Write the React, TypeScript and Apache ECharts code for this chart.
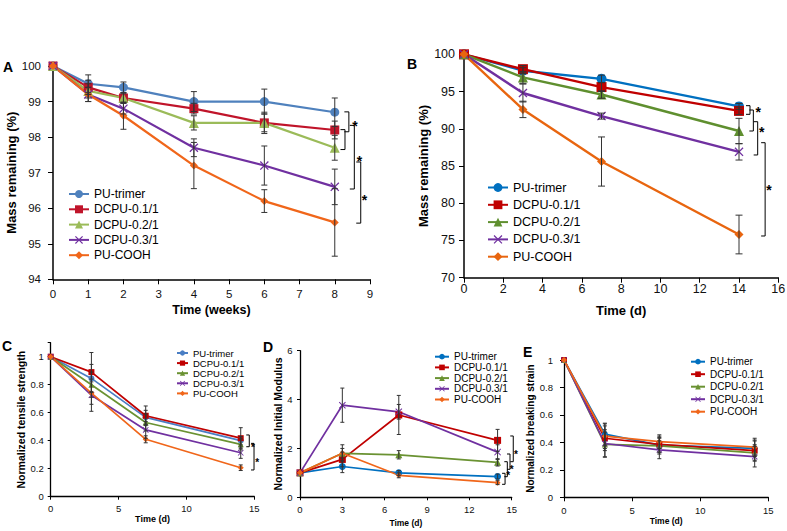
import React, { useEffect, useRef } from "react";
import * as echarts from "echarts";

const FONT = "'Liberation Sans', Arial, Helvetica, sans-serif";
const SEP = "|";

const seriesNames = ["PU-trimer", "DCPU-0.1/1", "DCPU-0.2/1", "DCPU-0.3/1", "PU-COOH"];

// Panel A: mass remaining vs weeks
const weeksA = [0, 1, 2, 4, 6, 8];
const massA = [
  [100, 99.5, 99.4, 99.0, 99.0, 98.7],
  [100, 99.4, 99.1, 98.8, 98.4, 98.2],
  [100, 99.3, 99.1, 98.4, 98.4, 97.7],
  [100, 99.2, 98.8, 97.7, 97.2, 96.6],
  [100, 99.2, 98.6, 97.2, 96.2, 95.6],
];
const errA = [
  [0, 0.25, 0.15, 0.28, 0.35, 0.4],
  [0, 0.2, 0.15, 0.15, 0.25, 0.25],
  [0, 0.2, 0.12, 0.2, 0.3, 0.35],
  [0, 0.2, 0.15, 0.25, 0.55, 0.5],
  [0, 0.2, 0.38, 0.65, 0.32, 0.95],
];
const bracketsA = [
  [8.4, 98.71, 98.15],
  [8.29, 98.21, 97.65],
  [8.555, 98.33, 96.54],
  [8.737, 97.3, 95.58],
];
const starsA = [
  [8.575, 98.42],
  [8.7, 97.43],
  [8.84, 96.32],
];

// Panel B: mass remaining vs days
const daysB = [0, 3, 7, 14];
const massB = [
  [100, 97.8, 96.7, 93.0],
  [100, 98.0, 95.6, 92.4],
  [100, 96.9, 94.6, 89.7],
  [100, 94.8, 91.7, 86.9],
  [100, 92.6, 85.6, 75.8],
];
const errB = [
  [0, 0.4, 0.5, 0.4],
  [0, 0.5, 0.6, 0.5],
  [0, 0.8, 0.5, 1.7],
  [0, 1.2, 0.4, 1.1],
  [0, 1.1, 3.3, 2.6],
];
const bracketsB = [
  [14.56, 93.1, 91.94],
  [14.73, 92.52, 89.7],
  [14.95, 90.95, 86.48],
  [15.33, 88.13, 75.6],
];
const starsB = [
  [14.98, 92.75],
  [15.16, 90.0],
  [15.53, 82.22],
];

// Panel C: normalized tensile strength
const daysC = [0, 3, 7, 14];
const tensileC = [
  [1, 0.845, 0.567, 0.4],
  [1, 0.89, 0.578, 0.418],
  [1, 0.8, 0.53, 0.374],
  [1, 0.725, 0.477, 0.314],
  [1, 0.74, 0.41, 0.207],
];
const errC = [
  [0, 0.1, 0.05, 0.03],
  [0, 0.14, 0.07, 0.075],
  [0, 0.09, 0.06, 0.04],
  [0, 0.115, 0.06, 0.04],
  [0, 0.08, 0.025, 0.02],
];
const bracketsC = [
  [14.63, 0.441, 0.357],
  [14.98, 0.381, 0.191],
];
const starsC = [
  [14.9, 0.369],
  [15.22, 0.259],
];

// Panel D: normalized initial modulus
const daysD = [0, 3, 7, 14];
const modulusD = [
  [1, 1.26, 1.0, 0.85],
  [1, 1.55, 3.37, 2.33],
  [1, 1.8, 1.74, 1.43],
  [1, 3.77, 3.5, 1.85],
  [1, 1.8, 0.9, 0.6],
];
const errD = [
  [0, 0.25, 0.1, 0.1],
  [0, 0.3, 0.8, 0.45],
  [0, 0.2, 0.17, 0.15],
  [0, 0.7, 0.3, 0.3],
  [0, 0.35, 0.1, 0.08],
];
const bracketsD = [
  [15.11, 2.51, 1.457],
  [14.88, 1.772, 1.146],
  [14.69, 1.457, 0.843],
  [14.53, 0.982, 0.532],
];
const starsD = [
  [15.31, 1.866],
  [15.0, 1.25],
  [14.76, 0.98],
];

// Panel E: normalized breaking strain
const daysE = [0, 3, 7, 14];
const strainE = [
  [1, 0.46, 0.38, 0.357],
  [1, 0.43, 0.385, 0.34],
  [1, 0.385, 0.375, 0.323],
  [1, 0.392, 0.346, 0.296],
  [1, 0.445, 0.405, 0.365],
];
const errE = [
  [0, 0.08, 0.05, 0.06],
  [0, 0.09, 0.06, 0.07],
  [0, 0.09, 0.06, 0.06],
  [0, 0.1, 0.065, 0.075],
  [0, 0.09, 0.05, 0.065],
];

const XPATH =
  "path://M0,1 L1,0 L5,4 L9,0 L10,1 L6,5 L10,9 L9,10 L5,6 L1,10 L0,9 L4,5 Z";
const symbols = ["circle", "rect", "triangle", XPATH, "diamond"];

const colorsA = ["#4f81bd", "#c0142a", "#9bbb59", "#7030a0", "#f0661a"];
const colorsB = ["#0070c0", "#c00000", "#5f8f2f", "#7030a0", "#e8650f"];
const colorsC = ["#4a7ec4", "#c00000", "#6a9232", "#7030a0", "#f0661a"];
const colorsDE = ["#0070c0", "#c00000", "#6a9232", "#7030a0", "#f0661a"];

type Panel = {
  id: string;
  x: number[];
  ys: number[][];
  errs: number[][];
  colors: string[];
  grid: { left: number; top: number; width: number; height: number };
  xa: { min: number; max: number; interval: number; name: string; gap: number; nameSize: number; margin: number };
  ya: { min: number; max: number; interval: number; name: string; gap: number; nameSize: number; margin: number };
  tickFont: number;
  tickLen: number;
  axisWidth: number;
  lineWidth: number;
  symSizes: number[];
  cap: number;
  brackets: number[][];
  stars: number[][];
  arm: number;
  starSize: number;
  legend: { left: number; top: number; itemWidth: number; itemHeight: number; itemGap: number; fontSize: number };
  labelFormatter?: (v: number) => string;
};

const panels: Panel[] = [
  {
    id: "A",
    x: weeksA,
    ys: massA,
    errs: errA,
    colors: colorsA,
    grid: { left: 53, top: 66, width: 317, height: 213.3 },
    xa: { min: 0, max: 9, interval: 1, name: "Time (weeks)", gap: 24, nameSize: 12.5, margin: 9 },
    ya: { min: 94, max: 100, interval: 1, name: "Mass remaining (%)", gap: 34, nameSize: 13, margin: 12 },
    tickFont: 11.5,
    tickLen: 5,
    axisWidth: 1.5,
    lineWidth: 2.2,
    symSizes: [9, 9, 10, 9, 8],
    cap: 6,
    brackets: bracketsA,
    stars: starsA,
    arm: 4.5,
    starSize: 14,
    legend: { left: 68, top: 188, itemWidth: 20, itemHeight: 10, itemGap: 3.3, fontSize: 12 },
  },
  {
    id: "B",
    x: daysB,
    ys: massB,
    errs: errB,
    colors: colorsB,
    grid: { left: 464, top: 54.3, width: 314.3, height: 223.4 },
    xa: { min: 0, max: 16, interval: 2, name: "Time (d)", gap: 26, nameSize: 13, margin: 5 },
    ya: { min: 70, max: 100, interval: 5, name: "Mass remaining (%)", gap: 34, nameSize: 13, margin: 9 },
    tickFont: 12.5,
    tickLen: 5,
    axisWidth: 1.5,
    lineWidth: 2.4,
    symSizes: [10, 10, 10, 9, 9],
    cap: 7,
    brackets: bracketsB,
    stars: starsB,
    arm: 4,
    starSize: 14,
    legend: { left: 487, top: 181, itemWidth: 20, itemHeight: 11, itemGap: 4.3, fontSize: 12.5 },
  },
  {
    id: "C",
    x: daysC,
    ys: tensileC,
    errs: errC,
    colors: colorsC,
    grid: { left: 50.7, top: 342.7, width: 203.6, height: 154 },
    xa: { min: 0, max: 15, interval: 5, name: "Time (d)", gap: 15, nameSize: 9, margin: 7 },
    ya: { min: 0, max: 1.1, interval: 0.2, name: "Normalized tensile strength", gap: 22, nameSize: 10.5, margin: 7 },
    tickFont: 9.5,
    tickLen: 3,
    axisWidth: 1.3,
    lineWidth: 1.7,
    symSizes: [6, 6, 6, 6, 6],
    cap: 4,
    brackets: bracketsC,
    stars: starsC,
    arm: 3,
    starSize: 10,
    legend: { left: 176, top: 348, itemWidth: 11, itemHeight: 6.5, itemGap: 0.1, fontSize: 9.5 },
    labelFormatter: (v: number) => (Math.abs(v * 5 - Math.round(v * 5)) < 1e-6 ? String(Math.round(v * 10) / 10) : ""),
  },
  {
    id: "D",
    x: daysD,
    ys: modulusD,
    errs: errD,
    colors: colorsDE,
    grid: { left: 300, top: 350.7, width: 211.7, height: 146.6 },
    xa: { min: 0, max: 15, interval: 3, name: "Time (d)", gap: 21, nameSize: 8.5, margin: 7 },
    ya: { min: 0, max: 6, interval: 2, name: "Normalized Initial Modulus", gap: 16, nameSize: 10.5, margin: 7.5 },
    tickFont: 9.5,
    tickLen: 3,
    axisWidth: 1.3,
    lineWidth: 1.7,
    symSizes: [7, 7, 7, 7, 6],
    cap: 4,
    brackets: bracketsD,
    stars: starsD,
    arm: 3,
    starSize: 10,
    legend: { left: 434, top: 351.7, itemWidth: 14, itemHeight: 7, itemGap: 0.7, fontSize: 10 },
  },
  {
    id: "E",
    x: daysE,
    ys: strainE,
    errs: errE,
    colors: colorsDE,
    grid: { left: 564, top: 360, width: 204.3, height: 137.3 },
    xa: { min: 0, max: 15, interval: 5, name: "Time (d)", gap: 12, nameSize: 8.5, margin: 8 },
    ya: { min: 0, max: 1, interval: 0.2, name: "Normalized breaking strain", gap: 23, nameSize: 10, margin: 11 },
    tickFont: 9.5,
    tickLen: 4,
    axisWidth: 1.3,
    lineWidth: 1.7,
    symSizes: [6, 6, 6, 6, 6],
    cap: 4,
    brackets: [],
    stars: [],
    arm: 3,
    starSize: 10,
    legend: { left: 690, top: 356.7, itemWidth: 14, itemHeight: 7, itemGap: 2.5, fontSize: 10 },
  },
];

const panelLabels = [
  { text: "A", left: 3, top: 60 },
  { text: "B", left: 407, top: 57 },
  { text: "C", left: 2, top: 339 },
  { text: "D", left: 263, top: 340 },
  { text: "E", left: 523, top: 345 },
];

function buildOption() {
  const grids: any[] = [];
  const xAxes: any[] = [];
  const yAxes: any[] = [];
  const legends: any[] = [];
  const series: any[] = [];

  panels.forEach((p, i) => {
    grids.push({ ...p.grid, containLabel: false, outerBoundsMode: "none" });
    const axisCommon = {
      type: "value",
      gridIndex: i,
      nameLocation: "middle",
      splitLine: { show: false },
      axisLine: { show: true, onZero: false, lineStyle: { color: "#000", width: p.axisWidth } },
      axisTick: { show: true, inside: false, length: p.tickLen, lineStyle: { color: "#000", width: 1 } },
    };
    xAxes.push({
      ...axisCommon,
      min: p.xa.min,
      max: p.xa.max,
      interval: p.xa.interval,
      name: p.xa.name,
      nameGap: p.xa.gap,
      nameTextStyle: { fontFamily: FONT, fontWeight: "bold", fontSize: p.xa.nameSize, color: "#000" },
      axisLabel: { fontFamily: FONT, fontSize: p.tickFont, color: "#111", margin: p.xa.margin },
    });
    yAxes.push({
      ...axisCommon,
      min: p.ya.min,
      max: p.ya.max,
      interval: p.ya.interval,
      name: p.ya.name,
      nameGap: p.ya.gap,
      nameTextStyle: { fontFamily: FONT, fontWeight: "bold", fontSize: p.ya.nameSize, color: "#000" },
      axisLabel: {
        fontFamily: FONT,
        fontSize: p.tickFont,
        color: "#111",
        margin: p.ya.margin,
        ...(p.labelFormatter ? { formatter: p.labelFormatter } : {}),
      },
    });

    const names = seriesNames.map((n) => n + SEP + p.id);
    legends.push({
      orient: "vertical",
      left: p.legend.left,
      top: p.legend.top,
      itemWidth: p.legend.itemWidth,
      itemHeight: p.legend.itemHeight,
      itemGap: p.legend.itemGap,
      padding: 0,
      selectedMode: false,
      data: names,
      formatter: (name: string) => name.split(SEP)[0],
      textStyle: { fontFamily: FONT, fontSize: p.legend.fontSize, color: "#000" },
    });

    p.ys.forEach((vals, s) => {
      series.push({
        type: "line",
        name: names[s],
        xAxisIndex: i,
        yAxisIndex: i,
        data: p.x.map((xv, k) => [xv, vals[k]]),
        symbol: symbols[s],
        symbolSize: p.symSizes[s],
        showAllSymbol: true,
        clip: false,
        lineStyle: { color: p.colors[s], width: p.lineWidth },
        itemStyle: { color: p.colors[s] },
        z: 3,
      });
    });

    const errData: number[][] = [];
    p.ys.forEach((vals, s) => {
      vals.forEach((v, k) => {
        const e = p.errs[s][k];
        if (e > 0) errData.push([p.x[k], v - e, v + e]);
      });
    });
    const cap = p.cap;
    series.push({
      type: "custom",
      xAxisIndex: i,
      yAxisIndex: i,
      data: errData,
      encode: { x: 0, y: [1, 2] },
      z: 4,
      silent: true,
      renderItem: (params: any, api: any) => {
        const x = api.value(0);
        const lo = api.coord([x, api.value(1)]);
        const hi = api.coord([x, api.value(2)]);
        const style = { stroke: "#333", lineWidth: 1 };
        const c = cap / 2;
        return {
          type: "group",
          children: [
            { type: "line", shape: { x1: lo[0], y1: lo[1], x2: hi[0], y2: hi[1] }, style },
            { type: "line", shape: { x1: lo[0] - c, y1: lo[1], x2: lo[0] + c, y2: lo[1] }, style },
            { type: "line", shape: { x1: hi[0] - c, y1: hi[1], x2: hi[0] + c, y2: hi[1] }, style },
          ],
        };
      },
    });

    if (p.brackets.length) {
      const arm = p.arm;
      series.push({
        type: "custom",
        xAxisIndex: i,
        yAxisIndex: i,
        data: p.brackets,
        encode: { x: 0, y: [1, 2] },
        z: 5,
        silent: true,
        renderItem: (params: any, api: any) => {
          const x = api.value(0);
          const a = api.coord([x, api.value(1)]);
          const b = api.coord([x, api.value(2)]);
          return {
            type: "polyline",
            shape: {
              points: [
                [a[0] - arm, a[1]],
                [a[0], a[1]],
                [b[0], b[1]],
                [b[0] - arm, b[1]],
              ],
            },
            style: { stroke: "#000", lineWidth: 1, fill: null },
          };
        },
      });
    }
    if (p.stars.length) {
      const fs = p.starSize;
      series.push({
        type: "custom",
        xAxisIndex: i,
        yAxisIndex: i,
        data: p.stars,
        encode: { x: 0, y: 1 },
        z: 5,
        silent: true,
        renderItem: (params: any, api: any) => {
          const pt = api.coord([api.value(0), api.value(1)]);
          return {
            type: "text",
            x: pt[0],
            y: pt[1] + fs * 0.25,
            style: {
              text: "*",
              fill: "#000",
              font: `bold ${fs}px ${FONT}`,
              align: "center",
              verticalAlign: "middle",
            },
          };
        },
      });
    }
  });

  return {
    animation: false,
    backgroundColor: "#fff",
    textStyle: { fontFamily: FONT },
    grid: grids,
    xAxis: xAxes,
    yAxis: yAxes,
    legend: legends,
    series,
    graphic: panelLabels.map((l) => ({
      type: "text",
      left: l.left,
      top: l.top,
      style: { text: l.text, font: `bold 14px ${FONT}`, fill: "#000" },
    })),
  };
}

export default function App() {
  const ref = useRef<HTMLDivElement>(null);
  useEffect(() => {
    if (!ref.current) return;
    const chart = echarts.init(ref.current, null, { renderer: "svg", width: 787, height: 531 });
    chart.setOption(buildOption() as any);
    return () => chart.dispose();
  }, []);
  return (
    <div
      ref={ref}
      style={{ position: "absolute", left: 0, top: 0, width: 787, height: 531, background: "#fff" }}
    />
  );
}
